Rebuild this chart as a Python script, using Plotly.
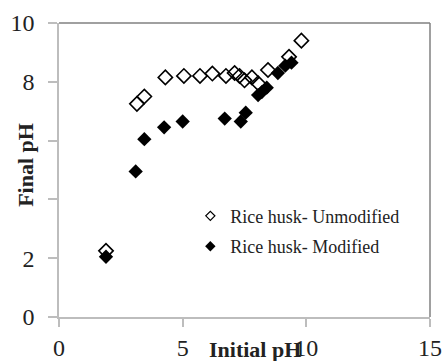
import plotly.graph_objects as go

# Data
unmod_x = [1.9, 3.15, 3.45, 4.3, 5.05, 5.7, 6.2, 6.75, 7.1, 7.3, 7.5, 7.8, 8.05, 8.45, 9.3, 9.8]
unmod_y = [2.25, 7.25, 7.5, 8.15, 8.2, 8.2, 8.28, 8.2, 8.3, 8.2, 8.05, 8.15, 7.95, 8.4, 8.85, 9.4]

mod_x = [1.9, 3.1, 3.45, 4.25, 5.0, 6.7, 7.35, 7.55, 8.05, 8.2, 8.4, 8.85, 9.15, 9.4]
mod_y = [2.05, 4.95, 6.05, 6.45, 6.65, 6.75, 6.65, 6.95, 7.55, 7.65, 7.8, 8.3, 8.55, 8.65]

series_names = ["Rice husk- Unmodified", "Rice husk- Modified"]

x_ticks = [0, 5, 10, 15]
y_ticks = [0, 2, 4, 6, 8, 10]
y_ticktext = ["0", "2", "", "", "8", "10"]

FONT = "Liberation Serif"

fig = go.Figure()
fig.add_trace(go.Scatter(
    x=unmod_x, y=unmod_y, mode="markers", name=series_names[0], showlegend=False,
    legendgroup="u",
    marker=dict(symbol="diamond-open", size=11, color="black", line=dict(width=1.6, color="black")),
))
fig.add_trace(go.Scatter(
    x=mod_x, y=mod_y, mode="markers", name=series_names[1], showlegend=False,
    legendgroup="m",
    marker=dict(symbol="diamond", size=11, color="black", line=dict(width=0)),
))
# legend entries (smaller symbols, as in the original legend)
fig.add_trace(go.Scatter(
    x=[None], y=[None], mode="markers", name=series_names[0], legendgroup="u",
    marker=dict(symbol="diamond-open", size=7, color="black", line=dict(width=1.2, color="black")),
))
fig.add_trace(go.Scatter(
    x=[None], y=[None], mode="markers", name=series_names[1], legendgroup="m",
    marker=dict(symbol="diamond", size=8, color="black", line=dict(width=0)),
))

axis_common = dict(
    showgrid=False, zeroline=False, showline=True, linecolor="#bdbdbd", linewidth=1.5,
    ticks="outside", tickcolor="#bdbdbd", tickwidth=1.5, automargin=False,
    tickfont=dict(family=FONT, size=24, color="#222222"),
)

fig.update_xaxes(range=[0, 15], tickvals=x_ticks, ticklen=8, ticklabelstandoff=0, **axis_common)
fig.update_yaxes(range=[0, 10], tickvals=y_ticks, ticktext=y_ticktext, ticklen=9,
                 ticklabelstandoff=9, **axis_common)

fig.update_layout(
    width=445, height=361,
    margin=dict(l=59, r=15, t=23, b=44, autoexpand=False),
    paper_bgcolor="white", plot_bgcolor="white",
    font=dict(family=FONT, color="#222222"),
    showlegend=True,
    legend=dict(
        x=0.354, y=0.406, xanchor="left", yanchor="top",
        bgcolor="rgba(0,0,0,0)", font=dict(family=FONT, size=18, color="#222222"),
        tracegroupgap=4, itemwidth=30,
    ),
    shapes=[
        dict(type="line", xref="x domain", yref="y domain", x0=0, x1=1, y0=1, y1=1,
             line=dict(color="#808080", width=1.5)),
        dict(type="line", xref="x domain", yref="y domain", x0=1, x1=1, y0=0, y1=1,
             line=dict(color="#808080", width=1.5)),
    ],
    annotations=[
        dict(text="<b>Initial pH</b>", xref="paper", yref="paper", x=0.528, y=-0.111,
             xanchor="center", yanchor="middle", showarrow=False,
             font=dict(family=FONT, size=22, color="#222222")),
        dict(text="<b>Final pH</b>", xref="paper", yref="paper", x=-0.092, y=0.517,
             xanchor="center", yanchor="middle", showarrow=False, textangle=-90,
             font=dict(family=FONT, size=22, color="#222222")),
    ],
)

fig.write_html("out.html", config={"displayModeBar": False},
               post_script="document.body.style.margin='0';")
